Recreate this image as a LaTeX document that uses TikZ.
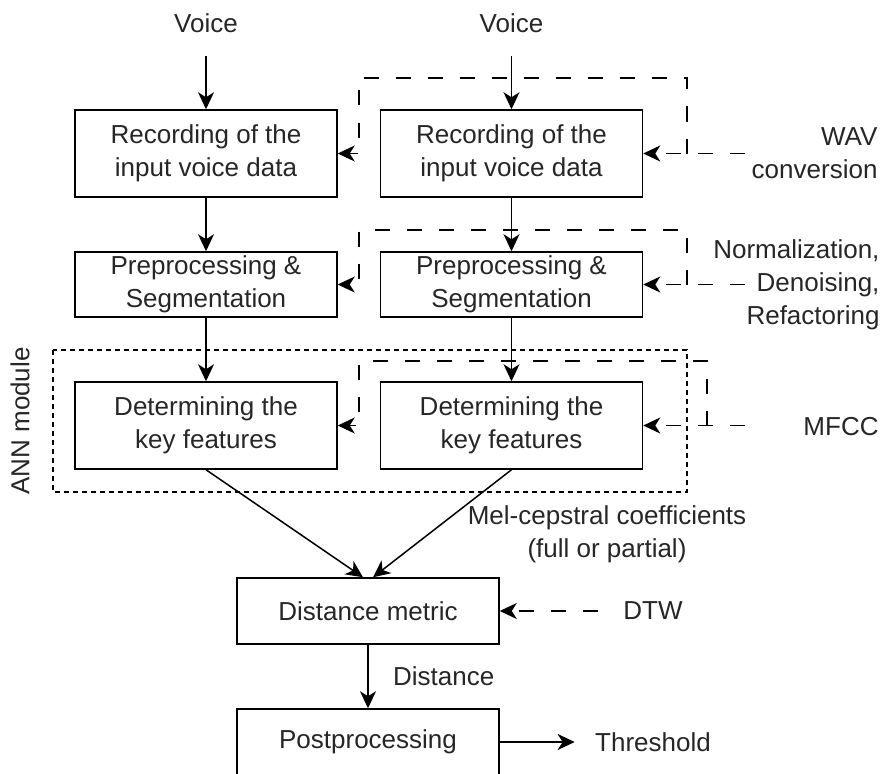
\documentclass[tikz,border=0pt]{standalone}
\usepackage{fontspec}
\setmainfont{Liberation Sans}
\usetikzlibrary{arrows.meta}
\begin{document}
\begin{tikzpicture}[x=1pt,y=-1pt,
  txt/.style={font=\fontsize{26}{33}\selectfont,text=black!85},
  box/.style={txt,draw=black,line width=1.5pt,minimum width=262pt,align=center},
  flow/.style={line width=1.5pt,-{Stealth[length=17pt,width=16pt,inset=5pt]}},
  feed/.style={flow,dash pattern=on 15pt off 17pt},
  ann/.style={line width=1.3pt,dash pattern=on 5pt off 4pt}]
 \useasboundingbox (0,0) rectangle (882,773);
 \draw[ann] (53,350) rectangle (687,492);
 \node[txt,rotate=90] (annlbl) at (20,421) {ANN module};
 \foreach \side/\xp in {L/206,R/511.5} {
   \node[txt] (voice\side) at (\xp,23) {Voice};
   \node[box,minimum height=87pt] (rec\side) at (\xp,153.5)
     {Recording of the\\input voice data};
   \node[box,minimum height=65pt] (pre\side) at (\xp,284.5)
     {Preprocessing \&\\Segmentation};
   \node[box,minimum height=87pt] (det\side) at (\xp,425.5)
     {Determining the\\key features};
   \draw[flow,shorten <=20pt] (voice\side.south) -- (rec\side);
   \draw[flow] (rec\side) -- (pre\side);
   \draw[flow] (pre\side) -- (det\side);
 }
 \node[txt,align=right,anchor=east] (wav) at (881,153) {WAV\\conversion};
 \node[txt,align=right,anchor=east] (norm) at (883,285)
   {Normalization,\\Denoising,\\Refactoring};
 \node[txt] (mfcc) at (841,427) {MFCC};
 \foreach \row/\yp/\ytop/\xk in {
   rec/153.5/78/687, pre/284.5/230/687, det/425.5/361/707
 } {
   \coordinate (\row In) at (745,\yp);
   \coordinate (\row Up) at (\xk,\yp);
   \coordinate (\row Top) at (359,\ytop);
   \draw[feed] (\row In) -- (\row R.east);
   \draw[feed] (\row Up) |- (\row Top) |- (\row L.east);
 }
 \node[txt,align=center] (mel) at (607,534)
   {Mel-cepstral coefficients\\(full or partial)};
 \node[box,minimum height=66pt] (dist) at (368,611) {Distance metric};
 \node[box,minimum height=66pt] (post) at (368,742) {Postprocessing};
 \draw[flow] (detL.south) -- ([xshift=-5pt]dist.north);
 \draw[flow] (detR.south) -- ([xshift=5pt]dist.north);
 \node[txt] (dtw) at (653,611) {DTW};
 \coordinate (dtwIn) at (598,611);
 \draw[feed] (dtwIn) -- (dist.east);
 \draw[flow] (dist) -- node[txt,anchor=west,xshift=21pt] (dlbl) {Distance} (post);
 \node[txt] (thr) at (653,742) {Threshold};
 \draw[flow,shorten >=17pt] (post) -- (thr);
\end{tikzpicture}
\end{document}
